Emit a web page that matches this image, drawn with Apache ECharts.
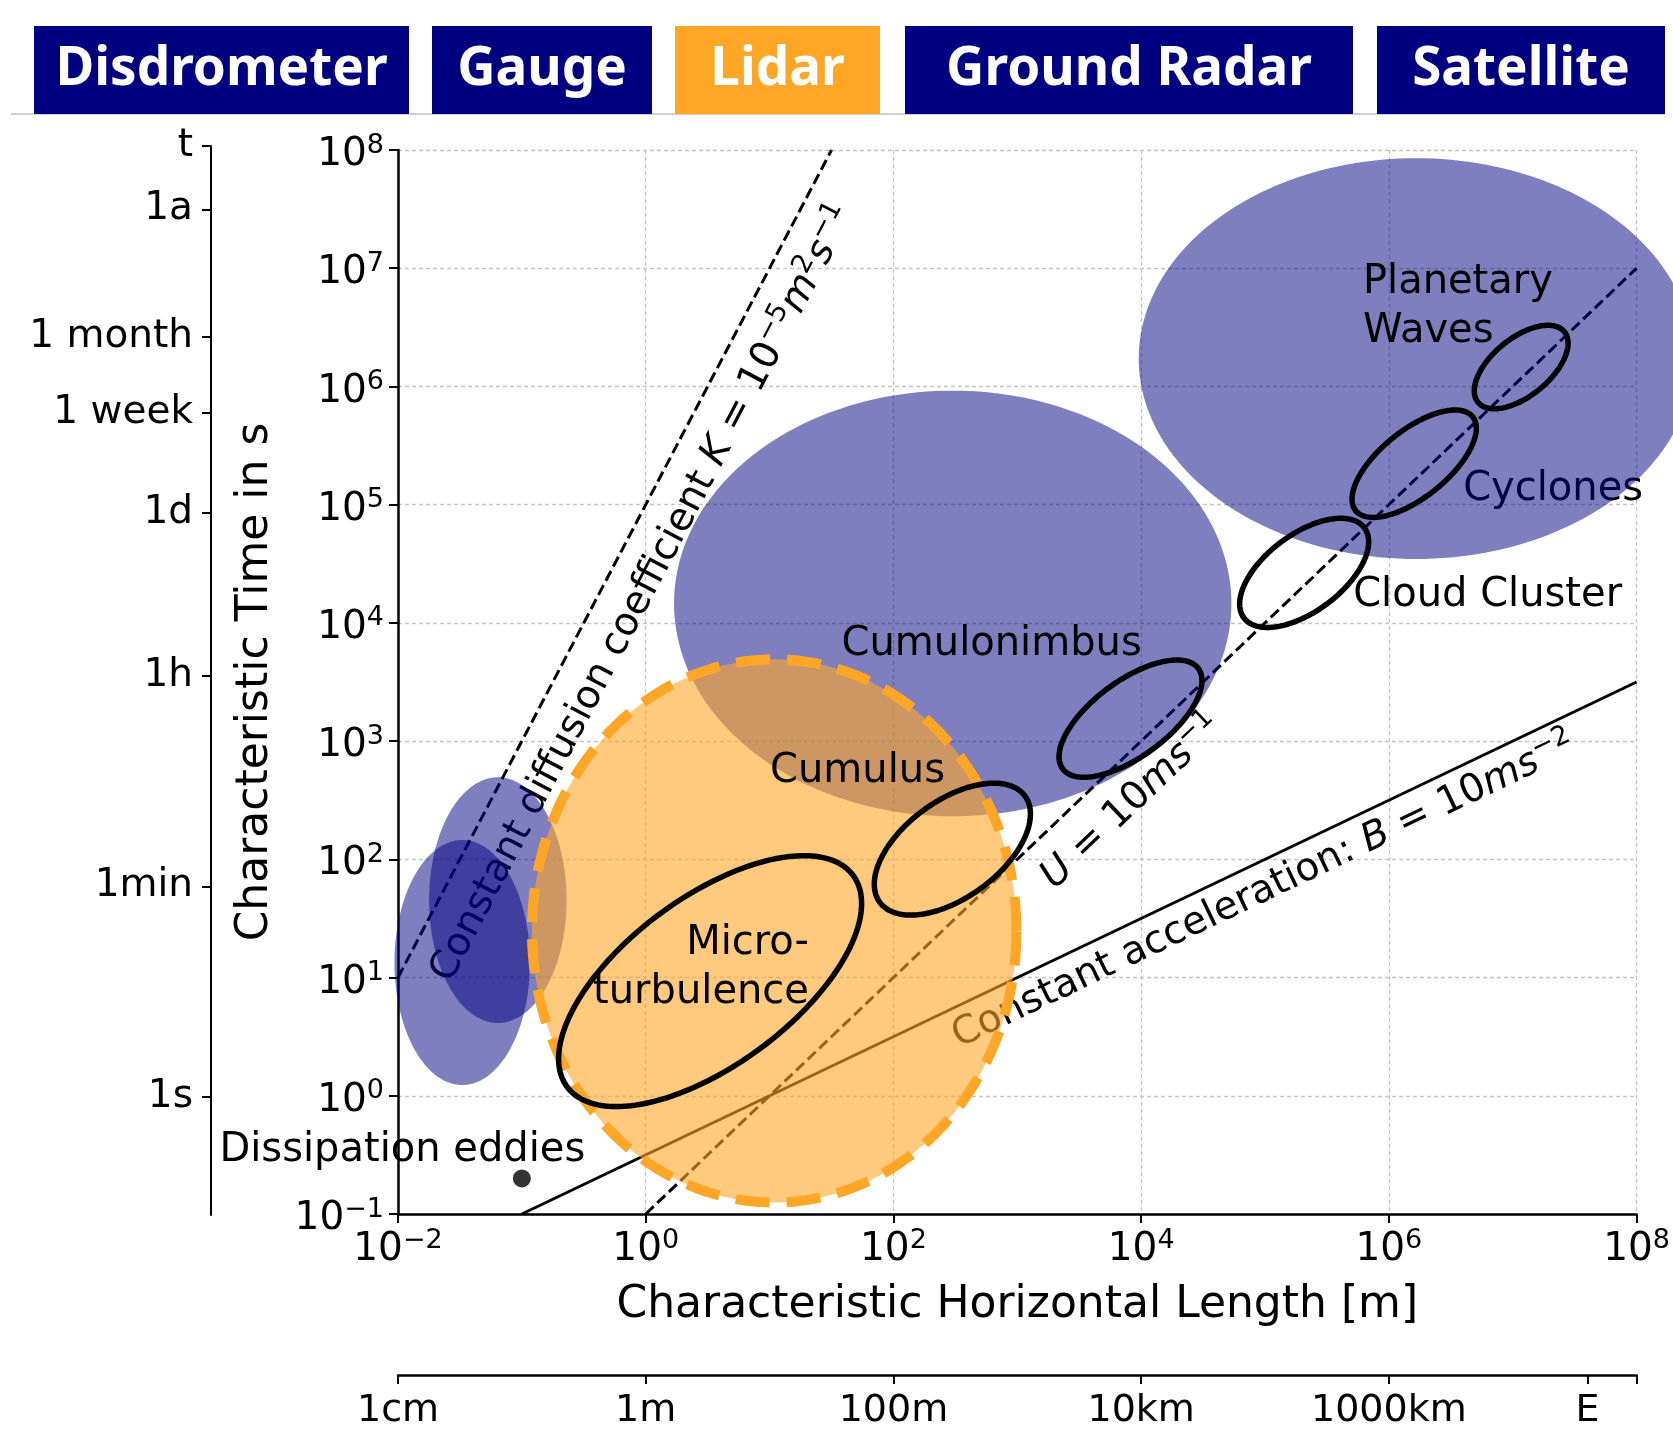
<!DOCTYPE html>
<html>
<head>
<meta charset="utf-8">
<script src="https://cdn.jsdelivr.net/npm/echarts@6/dist/echarts.min.js"></script>
<style>
  html, body { margin: 0; padding: 0; background: #ffffff; }
  #chart { width: 1673px; height: 1430px; }
</style>
</head>
<body>
<div id="chart"></div>
<script>
// ---------------------------------------------------------------------------
// Data
// ---------------------------------------------------------------------------

// Instruments listed in the header strip
const instruments = ['Disdrometer', 'Gauge', 'Lidar', 'Ground Radar', 'Satellite'];
const highlightedInstrument = 'Lidar';

// Instrument coverage regions (filled ellipses in log-log space)
// centre length [m], centre time [s], half-width / half-height in decades
const coverageNames  = ['Disdrometer', 'Gauge', 'Ground Radar', 'Satellite', 'Lidar'];
const coverageLength = [0.033, 0.064, 301, 1.66e6, 10.9];
const coverageTime   = [13.4, 45.2, 14600, 1.72e6, 24.8];
const coverageHalfX  = [0.547, 0.555, 2.25, 2.24, 1.956];
const coverageHalfY  = [1.036, 1.039, 1.80, 1.695, 2.297];

// Atmospheric phenomena (outlined, tilted ellipses in log-log space)
const phenomenaNames  = ['Micro-\nturbulence', 'Cumulus', 'Cumulonimbus', 'Cloud Cluster', 'Cyclones', 'Planetary\nWaves'];
const phenomenaLength = [3.31, 299, 8200, 2.07e5, 1.60e6, 1.17e7];
const phenomenaTime   = [9.33, 122, 1549, 2.65e4, 2.22e5, 1.46e6];
const phenomenaMajor  = [1.461, 0.739, 0.693, 0.618, 0.617, 0.459];   // decades
const phenomenaMinor  = [0.698, 0.403, 0.314, 0.320, 0.278, 0.239];   // decades
const phenomenaAngle  = [38.5, 38.5, 38.4, 39.0, 40.7, 41.5];         // degrees
// where each phenomenon's name is written
const phenomenaLabelLength = [20.8, 51.3, 621, 6.27e6, 2.12e7, 6.17e5];
const phenomenaLabelTime   = [12.1, 556, 6577, 1.69e4, 1.35e5, 4.72e6];

// Smallest scale: dissipation eddies
const dissipationPoint = [0.1, 0.2];
const dissipationLabel = [0.01084, 0.342];

// Scaling laws drawn as reference lines
const diffusionK = 1e-5;   // m^2 s^-1, t = L^2 / K
const windU = 10;          // m s^-1,   t = L / U
const accelB = 10;         // m s^-2,   t = sqrt(L / B)
const diffusionLengthRange = [0.01, 31.62];
const advectionLengthRange = [1, 1e8];
const accelLengthRange = [0.1, 1e8];
// label anchor of each law
const lawLabelLength = [0.954, 8450, 9.79e4];
const lawLabelTime   = [1.77e4, 305, 54.1];

// Secondary scales in everyday units
const timeUnitLabels  = ['1s', '1min', '1h', '1d', '1 week', '1 month', '1a'];
const timeUnitSeconds = [1, 60, 3600, 86400, 604800, 2629800, 31557600];
const lengthUnitLabels = ['1cm', '1m', '100m', '10km', '1000km', 'E'];
const lengthUnitMetres = [0.01, 1, 100, 1e4, 1e6, 4.0075e7];

// ---------------------------------------------------------------------------
// Layout and styles
// ---------------------------------------------------------------------------
const FONT = 'DejaVu Sans';
const NAVY = '#000080';
const ORANGE = '#FFA626';
const plotLeft = 398, plotTop = 150, plotWidth = 1240, plotHeight = 1065;
const yMinExp = -1, yMaxExp = 8;
const pxPerDecadeY = plotHeight / (yMaxExp - yMinExp);
const unitAxisTop = 146;   // the unit axis reaches a little higher, up to "t"
const unitAxisMax = yMaxExp + (plotTop - unitAxisTop) / pxPerDecadeY;

const log10 = Math.log10;
const pow10 = v => Math.pow(10, v);

function powerLabel(v) {
  const e = Math.round(log10(v));
  return '10{sup|' + (e < 0 ? '\u2212' + (-e) : String(e)) + '}';
}

function mathRich(size, lh) {
  const sup = Math.round(size * 0.7);
  return {
    it:  { fontSize: size, fontFamily: FONT, fontStyle: 'italic', lineHeight: lh },
    sup: { fontSize: sup, fontFamily: FONT, verticalAlign: 'top', lineHeight: sup + 2 }
  };
}

// reference lines built from their constants
const diffusionLine = diffusionLengthRange.map(L => [L, L * L / diffusionK]);
const advectionLine = advectionLengthRange.map(L => [L, L / windU]);
const accelLine = accelLengthRange.map(L => [L, Math.sqrt(L / accelB)]);
const lawLines = [diffusionLine, advectionLine, accelLine];
const lawTexts = [
  'Constant diffusion coefficient {it|K} = 10{sup|\u22125}{it|m}{sup|2}{it|s}{sup|\u22121}',
  '{it|U} = 10{it|ms}{sup|\u22121}',
  'Constant acceleration: {it|B} = 10{it|ms}{sup|\u22122}'
];

// ellipse outline in log-log space, projected through the axes
function ellipsePoints(api, L, T, a, b, angleDeg) {
  const cx = log10(L), cy = log10(T), th = angleDeg * Math.PI / 180;
  const pts = [];
  const n = 200;
  for (let k = 0; k < n; k++) {
    const t = 2 * Math.PI * k / n;
    const ex = cx + a * Math.cos(t) * Math.cos(th) - b * Math.sin(t) * Math.sin(th);
    const ey = cy + a * Math.cos(t) * Math.sin(th) + b * Math.sin(t) * Math.cos(th);
    pts.push(api.coord([pow10(ex), pow10(ey)]));
  }
  return pts;
}

// header strip
const headerLeft = [34, 432, 675, 905, 1377];
const headerWidth = [375, 220, 205, 448, 288];
const headerElements = [{
  type: 'line', z: 0,
  shape: { x1: 11, y1: 114, x2: 1665, y2: 114 },
  style: { stroke: '#cfcfcf', lineWidth: 2 }
}];
instruments.forEach((name, i) => {
  headerElements.push({
    type: 'rect',
    shape: { x: headerLeft[i], y: 26, width: headerWidth[i], height: 88 },
    style: { fill: name === highlightedInstrument ? ORANGE : NAVY }
  });
  headerElements.push({
    type: 'text',
    x: headerLeft[i] + headerWidth[i] / 2, y: 70,
    style: {
      text: name, fill: '#ffffff', align: 'center', verticalAlign: 'middle',
      fontSize: 53, fontWeight: 'bold', fontFamily: 'Noto Sans'
    }
  });
});

const axisBlack = { onZero: false, lineStyle: { color: '#000', width: 2.5 } };
const gridDash = { show: true, lineStyle: { color: '#c4c4c4', width: 1.3, type: [4, 3] } };
const tickRich = {
  sup: { fontSize: 27, fontFamily: FONT, color: '#000', verticalAlign: 'top', lineHeight: 29 }
};

function nearestIndex(values, v) {
  let best = 0;
  values.forEach((m, i) => {
    if (Math.abs(log10(m) - v) < Math.abs(log10(values[best]) - v)) best = i;
  });
  return best;
}

const coverageData = coverageNames.map((n, i) =>
  [coverageLength[i], coverageTime[i], coverageHalfX[i], coverageHalfY[i], 0]);
const phenomenaData = phenomenaNames.map((n, i) =>
  [phenomenaLength[i], phenomenaTime[i], phenomenaMajor[i], phenomenaMinor[i], phenomenaAngle[i]]);

// names sitting above the fills (Cyclones is drawn beneath the satellite region)
const topLabelIdx = [0, 1, 2, 3, 5];
const topLabelAlign = { 0: 'right', 5: 'left' };
const cyclonesIdx = 4;

const option = {
  animation: false,
  backgroundColor: '#ffffff',
  textStyle: { fontFamily: FONT },
  graphic: { elements: headerElements },
  grid: [
    { left: plotLeft, top: plotTop, width: plotWidth, height: plotHeight },
    { left: 211, top: unitAxisTop, width: 1, height: plotTop + plotHeight - unitAxisTop }
  ],
  xAxis: [
    {
      type: 'log', logBase: 10, gridIndex: 0, min: 0.01, max: 1e8, interval: 2, splitNumber: 5,
      name: 'Characteristic Horizontal Length [m]', nameLocation: 'middle', nameGap: 70,
      nameTextStyle: { fontSize: 44, fontFamily: FONT, color: '#000' },
      axisLine: axisBlack,
      axisTick: { length: 9, lineStyle: { color: '#000', width: 2 } },
      axisLabel: { fontSize: 39, fontFamily: FONT, color: '#000', lineHeight: 46, margin: 13,
                   formatter: powerLabel, rich: tickRich },
      splitLine: gridDash, minorTick: { show: false }
    },
    {
      type: 'value', gridIndex: 0, position: 'bottom', offset: 161,
      min: log10(0.01), max: 8,
      axisLine: { show: true, onZero: false, lineStyle: { color: '#000', width: 2.5 } },
      axisTick: { show: true, length: 9, lineStyle: { color: '#000', width: 2 },
                  customValues: lengthUnitMetres.map(log10).concat([8]) },
      axisLabel: {
        fontSize: 38, fontFamily: FONT, color: '#000', margin: 17,
        customValues: lengthUnitMetres.map(log10),
        formatter: v => lengthUnitLabels[nearestIndex(lengthUnitMetres, v)]
      },
      splitLine: { show: false }
    },
    { type: 'value', gridIndex: 1, show: false, min: 0, max: 1 }
  ],
  yAxis: [
    {
      type: 'log', logBase: 10, gridIndex: 0, min: 0.1, max: 1e8, interval: 1, splitNumber: 9,
      name: 'Characteristic Time in s', nameLocation: 'middle', nameGap: 120, nameRotate: 90,
      nameTextStyle: { fontSize: 44, fontFamily: FONT, color: '#000' },
      axisLine: axisBlack,
      axisTick: { length: 9, lineStyle: { color: '#000', width: 2 } },
      axisLabel: { fontSize: 39, fontFamily: FONT, color: '#000', lineHeight: 46, margin: 14,
                   padding: [10, 0, 0, 0], formatter: powerLabel, rich: tickRich },
      splitLine: gridDash, minorTick: { show: false }
    },
    {
      type: 'value', gridIndex: 1, position: 'left',
      min: yMinExp, max: unitAxisMax,
      axisLine: { show: true, onZero: false, lineStyle: { color: '#000', width: 2 } },
      axisTick: { show: true, length: 9, lineStyle: { color: '#000', width: 2 },
                  customValues: timeUnitSeconds.map(log10).concat([unitAxisMax]) },
      axisLabel: {
        fontSize: 39, fontFamily: FONT, color: '#000', margin: 18,
        customValues: timeUnitSeconds.map(log10).concat([unitAxisMax]),
        formatter: v => (v > yMaxExp ? 't' : timeUnitLabels[nearestIndex(timeUnitSeconds, v)])
      },
      splitLine: { show: false }
    }
  ],
  series: [
    // scaling laws
    {
      type: 'line', name: 'diffusion', xAxisIndex: 0, yAxisIndex: 0, z: 2,
      data: diffusionLine, showSymbol: false, silent: true,
      lineStyle: { color: '#000', width: 3, type: [11, 5] }
    },
    {
      type: 'line', name: 'advection', xAxisIndex: 0, yAxisIndex: 0, z: 2,
      data: advectionLine, showSymbol: false, silent: true,
      lineStyle: { color: '#000', width: 3, type: [11, 5] }
    },
    {
      type: 'line', name: 'acceleration', xAxisIndex: 0, yAxisIndex: 0, z: 2,
      data: accelLine, showSymbol: false, silent: true,
      lineStyle: { color: '#000', width: 3 }
    },
    // labels of the laws, written along each line
    {
      type: 'custom', name: 'law labels', xAxisIndex: 0, yAxisIndex: 0, z: 3, clip: false, silent: true,
      data: lawLabelLength.map((L, i) => [L, lawLabelTime[i]]),
      encode: { x: 0, y: 1 },
      renderItem: (params, api) => {
        const i = params.dataIndex;
        const p = api.coord([api.value(0), api.value(1)]);
        const a = api.coord(lawLines[i][0]);
        const b = api.coord(lawLines[i][1]);
        const rot = Math.atan2(a[1] - b[1], b[0] - a[0]);
        return {
          type: 'text', x: p[0], y: p[1], rotation: rot,
          style: {
            text: lawTexts[i], fill: '#000', fontSize: 39, fontFamily: FONT, lineHeight: 48,
            align: 'center', verticalAlign: 'middle', rich: mathRich(39, 48)
          }
        };
      }
    },
    // Cyclones label lies under the satellite region
    {
      type: 'custom', name: 'under label', xAxisIndex: 0, yAxisIndex: 0, z: 3, clip: false, silent: true,
      data: [[phenomenaLabelLength[cyclonesIdx], phenomenaLabelTime[cyclonesIdx]]],
      encode: { x: 0, y: 1 },
      renderItem: (params, api) => {
        const p = api.coord([api.value(0), api.value(1)]);
        return {
          type: 'text', x: p[0], y: p[1],
          style: { text: phenomenaNames[cyclonesIdx], fill: '#000', fontSize: 40, fontFamily: FONT,
                   align: 'center', verticalAlign: 'middle' }
        };
      }
    },
    // instrument coverage
    {
      type: 'custom', name: 'coverage', xAxisIndex: 0, yAxisIndex: 0, z: 4, clip: false, silent: true,
      data: coverageData,
      encode: { x: 0, y: 1 },
      renderItem: (params, api) => {
        const i = params.dataIndex;
        const pts = ellipsePoints(api, api.value(0), api.value(1), api.value(2), api.value(3), api.value(4));
        const isLidar = coverageNames[i] === highlightedInstrument;
        return {
          type: 'polygon', shape: { points: pts },
          style: isLidar
            ? { fill: 'rgba(255,166,38,0.6)', stroke: ORANGE, lineWidth: 10, lineDash: [34, 17] }
            : { fill: 'rgba(0,0,128,0.5)', stroke: null }
        };
      }
    },
    // phenomena outlines
    {
      type: 'custom', name: 'phenomena', xAxisIndex: 0, yAxisIndex: 0, z: 5, clip: false, silent: true,
      data: phenomenaData,
      encode: { x: 0, y: 1 },
      renderItem: (params, api) => {
        const pts = ellipsePoints(api, api.value(0), api.value(1), api.value(2), api.value(3), api.value(4));
        return {
          type: 'polygon', shape: { points: pts },
          style: { fill: null, stroke: '#000', lineWidth: 5.5 }
        };
      }
    },
    // phenomena names
    {
      type: 'custom', name: 'names', xAxisIndex: 0, yAxisIndex: 0, z: 6, clip: false, silent: true,
      data: topLabelIdx.map(i => [phenomenaLabelLength[i], phenomenaLabelTime[i]]),
      encode: { x: 0, y: 1 },
      renderItem: (params, api) => {
        const i = topLabelIdx[params.dataIndex];
        const p = api.coord([api.value(0), api.value(1)]);
        return {
          type: 'text', x: p[0], y: p[1],
          style: { text: phenomenaNames[i], fill: '#000', fontSize: 40, fontFamily: FONT,
                   lineHeight: 49, align: topLabelAlign[i] || 'center', verticalAlign: 'middle' }
        };
      }
    },
    // dissipation eddies
    {
      type: 'scatter', name: 'Dissipation eddies', xAxisIndex: 0, yAxisIndex: 0, z: 6, silent: true,
      data: [dissipationPoint], symbolSize: 18, itemStyle: { color: '#000' }
    },
    {
      type: 'custom', name: 'dissipation label', xAxisIndex: 0, yAxisIndex: 0, z: 6, clip: false, silent: true,
      data: [dissipationLabel],
      encode: { x: 0, y: 1 },
      renderItem: (params, api) => {
        const p = api.coord([api.value(0), api.value(1)]);
        return {
          type: 'text', x: p[0], y: p[1],
          style: { text: 'Dissipation eddies', fill: '#000', fontSize: 40, fontFamily: FONT,
                   align: 'center', verticalAlign: 'middle' }
        };
      }
    }
  ]
};

const chart = echarts.init(document.getElementById('chart'));
chart.setOption(option);
</script>
</body>
</html>
